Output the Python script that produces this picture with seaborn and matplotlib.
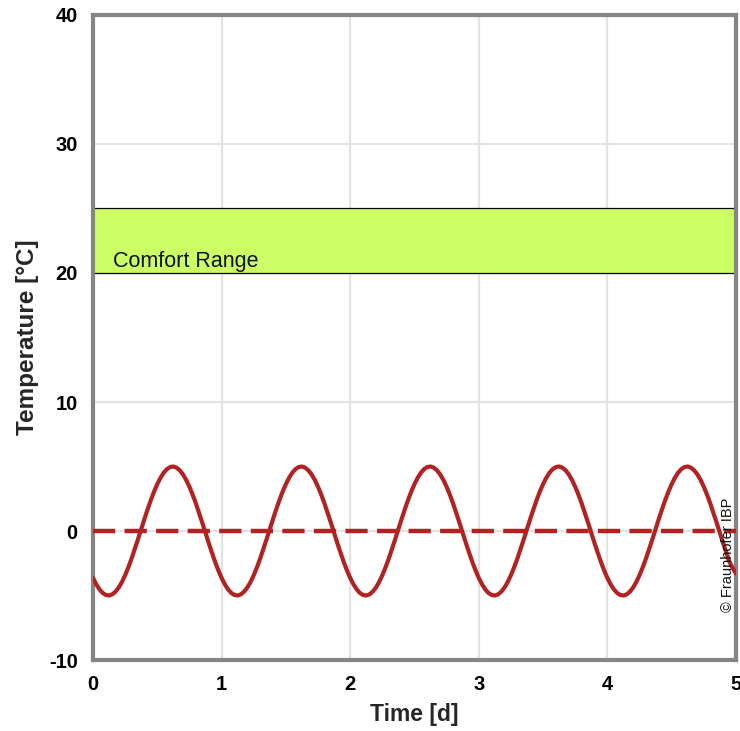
import matplotlib
matplotlib.use("Agg")
import matplotlib.pyplot as plt
import seaborn as sns
import pandas as pd

# ---- data ----
time_d = [round(i * 0.025, 3) for i in range(201)]
temperature = [
    -3.64, -4.13, -4.52, -4.80, -4.96, -5.00, -4.91, -4.70, -4.38, -3.95,
    -3.42, -2.81, -2.13, -1.39, -0.63, 0.16, 0.94, 1.69, 2.41, 3.06,
    3.64, 4.13, 4.52, 4.80, 4.96, 5.00, 4.91, 4.70, 4.38, 3.95,
    3.42, 2.81, 2.13, 1.39, 0.63, -0.16, -0.94, -1.69, -2.41, -3.06,
    -3.64, -4.13, -4.52, -4.80, -4.96, -5.00, -4.91, -4.70, -4.38, -3.95,
    -3.42, -2.81, -2.13, -1.39, -0.63, 0.16, 0.94, 1.69, 2.41, 3.06,
    3.64, 4.13, 4.52, 4.80, 4.96, 5.00, 4.91, 4.70, 4.38, 3.95,
    3.42, 2.81, 2.13, 1.39, 0.63, -0.16, -0.94, -1.69, -2.41, -3.06,
    -3.64, -4.13, -4.52, -4.80, -4.96, -5.00, -4.91, -4.70, -4.38, -3.95,
    -3.42, -2.81, -2.13, -1.39, -0.63, 0.16, 0.94, 1.69, 2.41, 3.06,
    3.64, 4.13, 4.52, 4.80, 4.96, 5.00, 4.91, 4.70, 4.38, 3.95,
    3.42, 2.81, 2.13, 1.39, 0.63, -0.16, -0.94, -1.69, -2.41, -3.06,
    -3.64, -4.13, -4.52, -4.80, -4.96, -5.00, -4.91, -4.70, -4.38, -3.95,
    -3.42, -2.81, -2.13, -1.39, -0.63, 0.16, 0.94, 1.69, 2.41, 3.06,
    3.64, 4.13, 4.52, 4.80, 4.96, 5.00, 4.91, 4.70, 4.38, 3.95,
    3.42, 2.81, 2.13, 1.39, 0.63, -0.16, -0.94, -1.69, -2.41, -3.06,
    -3.64, -4.13, -4.52, -4.80, -4.96, -5.00, -4.91, -4.70, -4.38, -3.95,
    -3.42, -2.81, -2.13, -1.39, -0.63, 0.16, 0.94, 1.69, 2.41, 3.06,
    3.64, 4.13, 4.52, 4.80, 4.96, 5.00, 4.91, 4.70, 4.38, 3.95,
    3.42, 2.81, 2.13, 1.39, 0.63, -0.16, -0.94, -1.69, -2.41, -2.90,
    -3.30,
]
mean_temperature = 0.0
comfort_low = 20
comfort_high = 25
comfort_label = "Comfort Range"
x_ticks = [0, 1, 2, 3, 4, 5]
y_ticks = [-10, 0, 10, 20, 30, 40]

df = pd.DataFrame({"Time [d]": time_d, "Temperature": temperature})

sns.set_theme(style="white")
plt.rcParams["font.family"] = ["Liberation Sans", "DejaVu Sans"]

fig = plt.figure(figsize=(7.4, 7.31), dpi=100)
ax = fig.add_axes([0.1257, 0.0971, 0.8689, 0.8824])

red = "#b22222"

# comfort band
ax.axhspan(comfort_low, comfort_high, facecolor="#ccff66", edgecolor="none", zorder=1)
ax.axhline(comfort_low, color="black", lw=0.9, zorder=2)
ax.axhline(comfort_high, color="black", lw=0.9, zorder=2)
ax.text(0.155, comfort_low + 0.1, comfort_label, fontsize=15.5, color="#111111",
        ha="left", va="bottom", zorder=3)

# grid
for xv in x_ticks[1:-1]:
    ax.axvline(xv, color="#e3e3e3", lw=1.6, zorder=0.5)
for yv in y_ticks[1:-1]:
    ax.axhline(yv, color="#e3e3e3", lw=1.6, zorder=0.5)

# mean line (dashed)
ax.axhline(mean_temperature, color=red, lw=3.2, dashes=(5.0, 2.1), zorder=4)

# temperature curve
sns.lineplot(data=df, x="Time [d]", y="Temperature", color=red, lw=3.0,
             ax=ax, zorder=5)

ax.set_xlim(0, 5)
ax.set_ylim(-10, 40)
ax.set_xticks(x_ticks)
ax.set_yticks(y_ticks)
ax.set_xticklabels([str(v) for v in x_ticks], fontweight="bold", fontsize=14.5)
ax.set_yticklabels([str(v) for v in y_ticks], fontweight="bold", fontsize=14.5)
ax.tick_params(axis="both", length=0, colors="black")
ax.tick_params(axis="y", pad=11)
ax.tick_params(axis="x", pad=11)
ax.set_xlabel("Time [d]", fontweight="bold", fontsize=16.5, labelpad=6)
ax.set_ylabel("Temperature [°C]", fontweight="bold", fontsize=17.5, labelpad=7)

for s in ax.spines.values():
    s.set_visible(True)
    s.set_color("#858585")
    s.set_linewidth(3.0)

ax.text(0.987, 0.074, "© Fraunhofer IBP", rotation=90, fontsize=10.5,
        transform=ax.transAxes, ha="center", va="bottom", color="#111111", zorder=6)

fig.savefig("out.png", dpi=100)
